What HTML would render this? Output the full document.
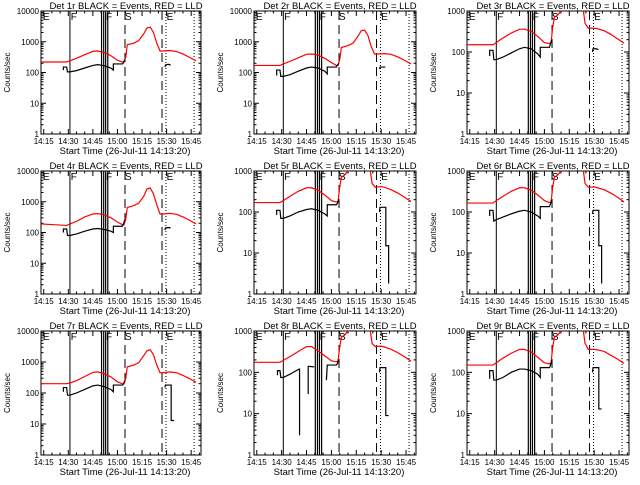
<!DOCTYPE html>
<html><head><meta charset="utf-8"><style>
html,body{margin:0;padding:0;background:#fff;}
svg text{font-family:"Liberation Sans",sans-serif;fill:#000;}
</style></head><body>
<svg id="chart" width="640" height="480" viewBox="0 0 640 480" xmlns="http://www.w3.org/2000/svg">
<rect width="640" height="480" fill="#ffffff"/>
</svg>
<script>
// ---- data (time in minutes after 14:00) ----
const detNames = ["1r","2r","3r","4r","5r","6r","7r","8r","9r"];
const yMaxDecades = [4,4,3,4,3,3,4,3,3];
const xTickMinutes = [15,30,45,60,75,90,105];
const xTickLabels = ["14:15","14:30","14:45","15:00","15:15","15:30","15:45"];
const redT_hi = [13.3,29,31,35,40,45,48,52,56,60,63,64,65,66,70,73,76,78,80,82,84,86,88,92,96,100,104,108];
const red1 = [220,220,240,290,380,490,500,450,350,250,220,220,300,800,900,1100,1800,2800,3000,2000,900,500,500,520,480,400,310,240];
const red2 = [170,170,190,230,300,390,400,370,290,210,170,170,260,650,750,900,1500,2300,2400,1600,700,400,400,410,390,320,250,190];
const red4 = [190,170,190,230,320,400,410,380,300,220,180,180,260,650,750,900,1500,2600,2800,1800,800,400,400,420,390,320,250,190];
const red7 = [200,200,210,250,340,460,480,420,330,230,200,200,280,700,800,950,1600,2300,2500,1700,800,450,450,480,450,370,290,220];
const redT_lo = [13.3,29,31,35,40,45,48,52,56,60,63,64,65,66,68,70,80,83.5,84.5,86.5,90,92,96,100,104,108];
const red3 = [150,150,170,220,290,360,360,320,240,170,160,170,400,700,800,1000,5000,1000,500,380,380,370,330,270,210,165];
const red5 = [170,170,190,240,320,390,390,340,260,190,175,180,400,700,800,1000,5000,1000,500,400,420,400,350,290,230,180];
const red6 = [165,165,190,240,320,390,390,340,260,190,170,175,400,700,800,1000,5000,1000,500,400,410,390,350,290,230,175];
const red8 = [175,175,195,240,320,420,420,330,250,190,180,190,400,700,800,1000,5000,1000,500,420,430,410,360,300,240,185];
const red9 = [150,150,170,220,290,360,360,310,230,170,160,170,400,700,800,1000,5000,1000,500,360,360,350,320,260,210,165];
const blkT_a = [27,27,29,29.5,31,35,40,45,48,52,56,57.5,57.5,63,63.5,64.5];
const blk1 = [120,150,150,105,105,115,140,170,180,165,140,120,190,190,200,260];
const blk2 = [80,120,120,75,75,85,110,140,150,140,110,90,150,150,170,200];
const blk3 = [80,110,110,65,65,75,95,120,130,120,90,75,130,130,150,200];
const blk4 = [100,130,130,80,80,90,110,130,135,125,110,100,160,160,180,260];
const blk5 = [85,110,110,70,70,80,100,115,120,110,90,80,150,150,160,200];
const blk6 = [80,110,110,60,65,75,90,105,110,100,80,70,135,135,150,200];
const blk7 = [110,150,150,85,85,100,130,170,180,160,130,110,180,180,190,250];
const blk9 = [70,110,110,65,65,75,100,120,120,110,90,75,130,130,140,200];
const blkT_b1 = [89,89.3,91,92.5];
const blk1b = [150,175,185,175];
const blk2b = [130,150,150,150];
const blk3b = [100,120,120,115];
const blk4b = [120,140,145,140];
const blkT_b2 = [89,89.3,92.8,92.8,94.5,94.5];
const blk5b = [100,130,130,15,15,1.8];
const blk6b = [90,110,110,15,15,1.8];
const blk7b = [150,180,180,13,13,13];
const blk8b = [100,130,130,9,9,9];
const blk9b = [100,130,130,13,13,13];
const blkT_8 = [27.5,27.5,29,29.5,31,35,40.5,40.8,40.8];
const blk8 = [85,110,110,75,75,90,120,120,3];
const blkT_8m = [46,46,49.7];
const blk8m = [30,140,135];
const blkT_8c = [57,57,57.5,63,63.5,64.5];
const blk8c = [80,65,150,150,160,200];

const redSeries = [[redT_hi,red1],[redT_hi,red2],[redT_lo,red3],[redT_hi,red4],[redT_lo,red5],[redT_lo,red6],[redT_hi,red7],[redT_lo,red8],[redT_lo,red9]];
const blackSeries = [
 [[blkT_a,blk1],[blkT_b1,blk1b]],
 [[blkT_a,blk2],[blkT_b1,blk2b]],
 [[blkT_a,blk3],[blkT_b1,blk3b]],
 [[blkT_a,blk4],[blkT_b1,blk4b]],
 [[blkT_a,blk5],[blkT_b2,blk5b]],
 [[blkT_a,blk6],[blkT_b2,blk6b]],
 [[blkT_a,blk7],[blkT_b2,blk7b]],
 [[blkT_8,blk8],[blkT_8m,blk8m],[blkT_8c,blk8c],[blkT_b2,blk8b]],
 [[blkT_a,blk9],[blkT_b2,blk9b]]
];
const solidLines = [31];
const thickLines = [50.3,51.6,52.8,54.1];
const dashedLines = [64.6,87.2];
const dottedLines = [89.6,106.8];
const markerT = [14.5,31.5,53,64.5,90];
const markerL = ["E","F","F","S","E"];

// ---- drawing ----
const NS="http://www.w3.org/2000/svg";
const svg=document.getElementById('chart');
function mk(tag,attrs,parent){const e=document.createElementNS(NS,tag);for(const k in attrs)e.setAttribute(k,attrs[k]);(parent||svg).appendChild(e);return e;}
const T0=13.333, T1=111;
const colX=[[41,201],[254,416],[467,629]];
const rowY=[[11,134],[171,294],[331,455]];

for(let p=0;p<9;p++){
  const c=p%3, r=Math.floor(p/3);
  const [x0,x1]=colX[c], [y0,y1]=rowY[r];
  const dec=yMaxDecades[p];
  const g=mk('g',{});
  
  
  const xs=t=>x0+(t-T0)/(T1-T0)*(x1-x0);
  const ys=v=>y1-Math.log10(v)/dec*(y1-y0);
  const cid='clip'+p;
  const cp=mk('clipPath',{id:cid},g);mk('rect',{x:x0,y:y0,width:x1-x0,height:y1-y0},cp);
  const tt=mk('text',{x:(x0+x1)/2+5,y:y0-2,'font-size':9.5,'text-anchor':'middle'},g);
  tt.textContent='Det '+detNames[p]+' BLACK = Events, RED = LLD';
  
  
  const box=mk('rect',{x:x0,y:y0,width:x1-x0,height:y1-y0,fill:'none',stroke:'#000','stroke-width':1},g);
  
  
  for(let d=0;d<=dec;d++){
    const yy=ys(Math.pow(10,d));
    mk('line',{x1:x0,x2:x0+5,y1:yy,y2:yy,stroke:'#000'},g);
    mk('line',{x1:x1,x2:x1-5,y1:yy,y2:yy,stroke:'#000'},g);
    const lb=mk('text',{x:x0-2,y:yy+3,'font-size':8,'text-anchor':'end'},g);
    lb.textContent=String(Math.pow(10,d));
    
    
    if(d<dec)for(let m=2;m<10;m++){const ym=ys(m*Math.pow(10,d));
      mk('line',{x1:x0,x2:x0+2.5,y1:ym,y2:ym,stroke:'#000'},g);
      mk('line',{x1:x1,x2:x1-2.5,y1:ym,y2:ym,stroke:'#000'},g);}
  }
  for(let m=15;m<T1;m+=5){const xx=xs(m);const maj=(m%15===0)?5:2.5;
    mk('line',{x1:xx,x2:xx,y1:y1,y2:y1-maj,stroke:'#000'},g);
    mk('line',{x1:xx,x2:xx,y1:y0,y2:y0+maj,stroke:'#000'},g);}
  xTickMinutes.forEach((m,i)=>{const lb=mk('text',{x:xs(m),y:y1+10,'font-size':8,'text-anchor':'middle'},g);
    lb.textContent=xTickLabels[i];
    
    });
  const xl=mk('text',{x:(x0+x1)/2+4,y:y1+20,'font-size':9.5,'text-anchor':'middle'},g);
  xl.textContent='Start Time (26-Jul-11 14:13:20)';
  
  
  const yl=mk('text',{x:0,y:0,'font-size':8,'text-anchor':'middle',transform:`translate(${x0-31},${(y0+y1)/2}) rotate(-90)`},g);
  yl.textContent='Counts/sec';
  
  
  const vg=mk('g',{'clip-path':`url(#${cid})`},g);
  solidLines.forEach(t=>mk('line',{x1:xs(t),x2:xs(t),y1:y0,y2:y1,stroke:'#000','stroke-width':1},vg));
  thickLines.forEach(t=>mk('line',{x1:xs(t),x2:xs(t),y1:y0,y2:y1,stroke:'#000','stroke-width':1.2},vg));
  dashedLines.forEach(t=>mk('line',{x1:xs(t),x2:xs(t),y1:y0,y2:y1,stroke:'#000','stroke-width':1,'stroke-dasharray':'9,5'},vg));
  dottedLines.forEach(t=>mk('line',{x1:xs(t),x2:xs(t),y1:y0,y2:y1,stroke:'#000','stroke-width':1,'stroke-dasharray':'1,2'},vg));
  markerT.forEach((t,i)=>{const lb=mk('text',{x:xs(t),y:y0+9,'font-size':10},g);
    lb.textContent=markerL[i];
    
    });
  const [rt,rv]=redSeries[p];
  const rl=mk('polyline',{points:rt.map((t,i)=>xs(t)+','+ys(rv[i])).join(' '),fill:'none',stroke:'#ff0000','stroke-width':1.2,'clip-path':`url(#${cid})`},g);
  
  
  blackSeries[p].forEach(([bt,bv])=>{
    const bl=mk('polyline',{points:bt.map((t,i)=>xs(t)+','+ys(bv[i])).join(' '),fill:'none',stroke:'#000','stroke-width':1.2,'clip-path':`url(#${cid})`},g);
    
    
  });
}
</script>
</body></html>
